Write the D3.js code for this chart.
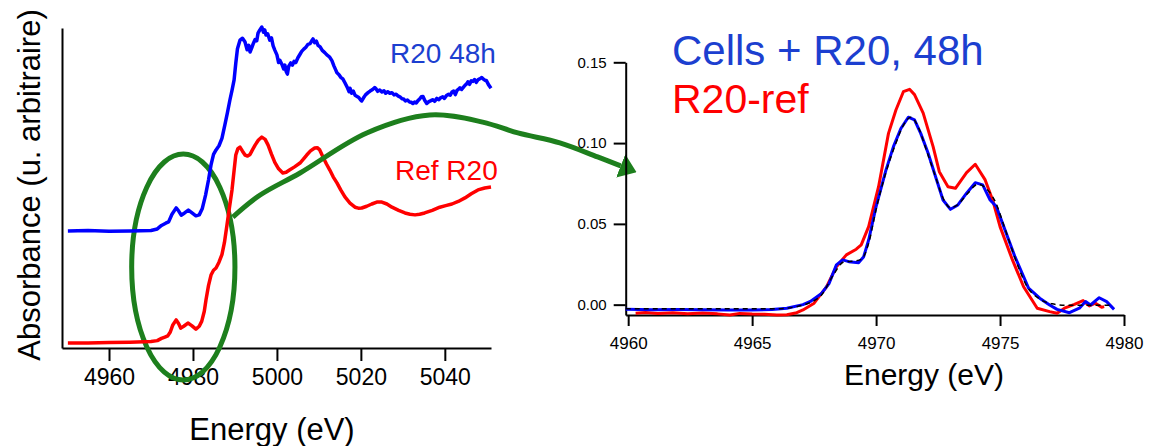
<!DOCTYPE html>
<html>
<head>
<meta charset="utf-8">
<script src="https://cdn.jsdelivr.net/npm/d3@7"></script>
<style>
  body { margin: 0; background: #fff; }
  text { font-family: "Liberation Sans", Arial, sans-serif; }
</style>
</head>
<body>
<div id="chart"></div>
<script>
// left panel: full XANES spectra, [energy eV, absorbance (arb. units, offset)]
var r20_48h = [
  [4950.2,36.6],[4955,36.7],[4960,36.5],[4965,36.6],[4970,36.7],[4971.5,37.2],[4972.5,38.3],[4973.5,39.0],
  [4974.2,39.4],[4975,41.8],[4976,43.8],[4976.6,42.8],[4977.2,41.5],[4978,42.2],[4978.9,43.1],[4979.7,42.3],
  [4980.7,41.3],[4981.5,41.6],[4982.2,43.5],[4983,47.8],[4983.7,52.5],[4984.3,57.2],[4984.9,60.5],[4985.5,61.9],
  [4986.2,63.2],[4986.9,65.5],[4987.6,69.7],[4988.2,73.5],[4988.8,77.5],[4989.3,80.5],[4989.8,83.8],[4990.2,89],
  [4990.6,93.5],[4991.2,96.2],[4991.8,96.8],[4992.4,95.6],[4992.9,93.2],[4993.3,94.6],[4993.6,92.5],[4994.0,93.8],
  [4994.3,94.9],[4994.8,96.4],[4995.2,96.0],[4995.5,98.4],[4995.9,99.3],[4996.4,100.3],[4996.8,98.7],[4997.1,99.4],
  [4997.4,97.8],[4997.8,98.2],[4998.3,96.2],[4998.7,96.9],[4999.1,94.4],[4999.5,93.1],[5000,91.6],[5000.4,89.2],
  [5000.7,89.9],[5001.2,88.6],[5001.6,87.2],[5001.9,88.4],[5002.2,86.4],[5002.5,85.6],[5002.8,88.0],[5003.3,89.1],
  [5003.7,88.4],[5004.1,89.6],[5004.5,89.2],[5005,90.7],[5005.5,91.8],[5005.9,92.7],[5006.4,93.4],[5006.9,94.0],
  [5007.4,94.9],[5007.9,95.1],[5008.3,96.0],[5008.6,96.6],[5009.0,95.4],[5009.4,95.9],[5009.8,94.6],[5010.3,94.1],
  [5010.8,93.0],[5011.4,92.3],[5011.9,91.6],[5012.5,91.0],[5013.1,89.8],[5013.6,88.1],[5014.0,86.9],[5014.3,86.0],
  [5014.8,85.4],[5015.2,84.6],[5015.7,84.1],[5016.2,82.9],[5016.8,81.3],[5017.2,80.1],[5017.4,81.2],[5017.8,79.6],
  [5018.2,80.3],[5018.6,79.0],[5019.0,78.7],[5019.5,78.3],[5019.9,77.6],[5020.2,77.2],[5020.6,78.1],[5021.1,79.1],
  [5021.7,79.8],[5022.2,80.3],[5022.8,80.8],[5023.3,81.4],[5023.6,81.0],[5024.0,80.2],[5024.5,80.6],[5025.0,80.0],
  [5025.5,80.4],[5025.9,79.6],[5026.4,80.1],[5026.9,79.6],[5027.4,79.8],[5027.9,79.1],[5028.4,79.3],[5028.8,78.8],
  [5029.3,78.5],[5029.8,77.9],[5030.2,77.8],[5030.6,77.2],[5031.1,77.5],[5031.6,76.9],[5032.0,76.8],[5032.4,76.4],
  [5032.8,76.9],[5033.2,76.6],[5033.6,77.3],[5034.0,77.8],[5034.4,78.5],[5034.8,78.6],[5035.2,77.4],[5035.7,76.4],
  [5036.2,77.0],[5036.7,77.3],[5037.1,77.6],[5037.6,77.1],[5038.1,78.0],[5038.6,77.6],[5039.0,78.2],[5039.5,78.5],
  [5039.9,78.0],[5040.4,78.9],[5040.9,79.3],[5041.3,79.0],[5041.7,80.0],[5042.1,80.3],[5042.5,79.2],[5042.9,80.5],
  [5043.3,80.9],[5043.6,81.3],[5044.0,80.8],[5044.5,81.6],[5044.9,82.2],[5045.3,82.7],[5045.5,83.2],[5045.9,82.4],
  [5046.3,83.5],[5046.7,83.3],[5047.1,83.9],[5047.5,83.0],[5047.9,83.8],[5048.3,84.1],[5048.8,84.5],[5049.2,84.0],
  [5049.6,83.6],[5049.9,83.6],[5050.4,82.3],[5051.0,81.2]
];

var refR20 = [
  [4950.2,1.6],[4955,1.6],[4960,1.7],[4965,1.8],[4970,2.0],[4971.5,2.3],[4972.5,3.0],[4973.3,3.4],[4974,3.8],
  [4974.6,5.0],[4975.2,7.2],[4976,8.8],[4976.6,7.6],[4977.1,6.2],[4977.8,6.8],[4978.8,7.8],[4979.7,7.0],[4980.7,5.9],
  [4981.5,6.8],[4982.1,8.4],[4982.7,11.5],[4983.1,15.0],[4983.7,19.5],[4984.3,22.8],[4984.9,24.3],[4985.5,25.0],
  [4986.2,26.8],[4986.9,29.2],[4987.5,33.0],[4988.1,38.4],[4988.7,44.0],[4989.3,49.4],[4989.8,55.5],[4990.2,60.3],
  [4990.7,62.3],[4991.2,62.8],[4991.8,61.5],[4992.4,60.3],[4993.0,60.0],[4993.6,60.5],[4994.2,62.0],[4994.8,63.4],
  [4995.6,65.0],[4996.4,65.9],[4997.2,65.2],[4997.9,63.4],[4998.7,60.6],[4999.5,58.0],[5000.4,56.0],[5001.4,54.7],
  [5002.2,54.9],[5003,55.6],[5004.2,56.6],[5005.5,57.8],[5006.3,59.0],[5007.1,60.3],[5008.0,61.6],[5009.0,62.5],
  [5009.6,62.6],[5010.2,61.9],[5011.0,59.6],[5011.8,57.5],[5012.6,55.6],[5013.4,53.5],[5014.3,51.6],[5015.2,49.4],
  [5016.2,47.2],[5017.4,45.3],[5018.6,44.0],[5019.4,43.7],[5020.2,43.75],[5021.4,44.3],[5022.6,45.0],[5023.8,45.6],
  [5025.0,45.6],[5026.2,45.0],[5027.4,44.0],[5029.0,43.0],[5030.5,42.2],[5031.7,41.8],[5032.9,41.6],[5034.0,41.8],
  [5035.2,42.2],[5037.0,43.0],[5038.8,44.0],[5040.2,44.5],[5041.7,45.0],[5043.2,45.8],[5044.8,46.9],[5046.3,48.2],
  [5047.9,49.4],[5049.5,50.0],[5051.0,50.3]
];

// right panel: pre-edge region
var cellsR20 = [
  [4959.9,-0.0029],[4961,-0.0031],[4962,-0.0030],[4963,-0.0032],[4964,-0.0033],[4965,-0.0033],[4965.8,-0.0030],
  [4966.4,-0.0022],[4967.05,0],[4967.35,0.002],[4967.8,0.007],[4968.1,0.013],[4968.4,0.0246],[4968.65,0.0277],
  [4968.9,0.0266],[4969.3,0.026],[4969.5,0.0297],[4969.7,0.040],[4970.0,0.0607],[4970.4,0.0834],[4970.7,0.0978],
  [4971.0,0.109],[4971.3,0.116],[4971.55,0.1143],[4971.8,0.106],[4972.1,0.0937],[4972.4,0.0792],[4972.7,0.0648],
  [4973.0,0.059],[4973.3,0.0617],[4973.65,0.069],[4974.0,0.0755],[4974.3,0.0741],[4974.6,0.0648],[4974.85,0.0607],
  [4975.15,0.0483],[4975.6,0.0297],[4976.15,0.0102],[4976.6,0.004],[4977.0,-0.0002],[4977.3,-0.0029],
  [4977.8,-0.005],[4978.2,-0.0022],[4978.45,0.0019],[4978.65,-0.0002],[4979.0,0.0043],[4979.3,0.0019],[4979.6,-0.0029]
];

var r20Ref = [
  [4960.3,-0.0053],[4960.7,-0.0048],[4961.2,-0.0055],[4961.8,-0.0050],[4962.4,-0.0056],[4963.0,-0.0052],
  [4963.6,-0.0057],[4964.1,-0.0064],[4964.5,-0.0054],[4965.0,-0.0058],[4965.5,-0.0060],[4966.0,-0.0064],
  [4966.4,-0.0062],[4966.8,-0.0050],[4967.05,-0.0033],[4967.5,0.0009],[4968.0,0.011],[4968.4,0.0235],
  [4968.8,0.0308],[4969.2,0.0343],[4969.4,0.037],[4969.7,0.0483],[4970.1,0.073],[4970.5,0.106],[4970.8,0.1205],
  [4971.1,0.1318],[4971.35,0.1333],[4971.55,0.130],[4971.9,0.1185],[4972.3,0.0978],[4972.55,0.0823],[4972.9,0.073],
  [4973.2,0.072],[4973.65,0.0817],[4974.0,0.0869],[4974.4,0.0772],[4974.7,0.0648],[4975.0,0.0483],[4975.5,0.0277],
  [4975.95,0.0111],[4976.5,-0.0022],[4977.0,-0.0043],[4977.3,-0.0053],[4977.6,-0.0022],[4978.0,0.0002],
  [4978.35,0.0025],[4978.6,-0.0008],[4978.85,0.0009],[4979.1,-0.0016],[4979.2,-0.0012]
];

var fitCurve = [
  [4959.9,-0.0025],[4966,-0.0025],[4966.8,-0.0012],[4967.3,0.001],[4967.8,0.006],[4968.3,0.019],[4968.7,0.0265],
  [4969.1,0.027],[4969.4,0.028],[4969.7,0.038],[4970.0,0.059],[4970.4,0.082],[4970.8,0.100],[4971.1,0.111],
  [4971.4,0.116],[4971.7,0.110],[4972.0,0.097],[4972.4,0.079],[4972.7,0.066],[4973.0,0.060],[4973.3,0.062],
  [4973.7,0.069],[4974.1,0.0745],[4974.4,0.0725],[4974.8,0.064],[4975.2,0.047],[4975.6,0.029],[4976.1,0.011],
  [4976.6,0.0035],[4977.1,0.0005],[4977.6,-0.0003],[4978.5,-0.0003],[4979.5,-0.0003]
];

var leftTicks = [4960, 4980, 5000, 5020, 5040];
var rightXTicks = [4960, 4965, 4970, 4975, 4980];
var rightYTicks = [0, 0.05, 0.10, 0.15];

// annotation (in left-panel data units): ellipse round the pre-edge, arrow to the zoom
var ellipseCenter = [4977.7, 25.3];
var ellipseRadius = [12.3, 35.3];
var arrowPath = [
  [4989.5,40.9],[4996,47.8],[5005.5,54.7],[5021.4,67.2],[5036.4,72.8],[5049.0,70.6],
  [5057.4,67.2],[5067.4,64.1],[5076.4,59.7],[5081.9,56.9]
];

function init(){

    var w = 1152;
    var h = 446;
    var green = "#1d7f1d";

    var svg = d3.select("#chart")
                .append("svg")
                .attr("width", w)
                .attr("height", h);

    svg.append("rect").attr("width", w).attr("height", h).attr("fill", "#fff");

    // ---------- left panel ----------
    var xL = d3.scaleLinear().domain([4948.8, 5051]).range([62, 491]);
    var yL = d3.scaleLinear().domain([0, 100]).range([348, 28]);

    var xAxisL = svg.append("g")
        .attr("transform", "translate(0,348)")
        .call(d3.axisBottom(xL).tickValues(leftTicks).tickSize(13).tickSizeOuter(0).tickPadding(8)
              .tickFormat(d3.format("d")));
    xAxisL.selectAll("text").attr("font-size", "23px").attr("fill", "#000");

    svg.append("g")
        .attr("transform", "translate(62,0)")
        .call(d3.axisLeft(yL).tickValues([]).tickSizeOuter(0));

    svg.selectAll(".domain, .tick line").attr("stroke", "#000").attr("stroke-width", 2);

    // green annotations (behind the curves)
    svg.append("ellipse")
        .attr("cx", xL(ellipseCenter[0]))
        .attr("cy", yL(ellipseCenter[1]))
        .attr("rx", xL(ellipseCenter[0] + ellipseRadius[0]) - xL(ellipseCenter[0]))
        .attr("ry", yL(ellipseCenter[1]) - yL(ellipseCenter[1] + ellipseRadius[1]))
        .attr("fill", "none")
        .attr("stroke", green)
        .attr("stroke-width", 5);

    var lineL = d3.line()
        .x(function(d){ return xL(d[0]); })
        .y(function(d){ return yL(d[1]); });

    svg.append("path")
        .datum(refR20)
        .attr("d", lineL)
        .attr("fill", "none")
        .attr("stroke", "#ff0000")
        .attr("stroke-width", 3.5)
        .attr("stroke-linejoin", "round");

    svg.append("path")
        .datum(r20_48h)
        .attr("d", lineL)
        .attr("fill", "none")
        .attr("stroke", "#0000ff")
        .attr("stroke-width", 3.5)
        .attr("stroke-linejoin", "round");

    // arrow
    svg.append("defs").append("marker")
        .attr("id", "head")
        .attr("markerUnits", "userSpaceOnUse")
        .attr("viewBox", "0 -13 17 26")
        .attr("refX", 0)
        .attr("refY", 0)
        .attr("markerWidth", 17)
        .attr("markerHeight", 26)
        .attr("orient", "auto")
        .append("path")
        .attr("d", "M0,-12.5L17,0L0,12.5Z")
        .attr("fill", green);

    svg.append("path")
        .datum(arrowPath)
        .attr("d", lineL.curve(d3.curveCatmullRom))
        .attr("fill", "none")
        .attr("stroke", green)
        .attr("stroke-width", 5)
        .attr("marker-end", "url(#head)");

    svg.append("text")
        .attr("x", 390).attr("y", 63)
        .attr("font-size", "28px")
        .attr("fill", "#1c3fd0")
        .text("R20 48h");

    svg.append("text")
        .attr("x", 395).attr("y", 180)
        .attr("font-size", "28px")
        .attr("fill", "#ff0000")
        .text("Ref R20");

    svg.append("text")
        .attr("x", 272).attr("y", 440)
        .attr("text-anchor", "middle")
        .attr("font-size", "31px")
        .attr("fill", "#000")
        .text("Energy (eV)");

    svg.append("text")
        .attr("transform", "translate(40,185) rotate(-90)")
        .attr("text-anchor", "middle")
        .attr("font-size", "31px")
        .attr("fill", "#000")
        .text("Absorbance (u. arbitraire)");

    // ---------- right panel ----------
    var xR = d3.scaleLinear().domain([4959.9, 4980]).range([625.7, 1124]);
    var yR = d3.scaleLinear().domain([-0.0064, 0.15]).range([315, 62.3]);

    var gR = svg.append("g");

    var xAxisR = gR.append("g")
        .attr("transform", "translate(0,315)")
        .call(d3.axisBottom(xR).tickValues(rightXTicks).tickSize(11).tickSizeOuter(0).tickPadding(11)
              .tickFormat(d3.format("d")));
    xAxisR.selectAll("text").attr("font-size", "17px").attr("fill", "#000");

    var yAxisR = gR.append("g")
        .attr("transform", "translate(625.7,0)")
        .call(d3.axisLeft(yR).tickValues(rightYTicks).tickSize(12).tickSizeOuter(0).tickPadding(7)
              .tickFormat(d3.format(".2f")));
    yAxisR.selectAll("text").attr("font-size", "15px").attr("fill", "#000");

    gR.selectAll(".domain, .tick line").attr("stroke", "#000").attr("stroke-width", 2);

    var lineR = d3.line()
        .x(function(d){ return xR(d[0]); })
        .y(function(d){ return yR(d[1]); });

    gR.append("path")
        .datum(r20Ref)
        .attr("d", lineR)
        .attr("fill", "none")
        .attr("stroke", "#ff0000")
        .attr("stroke-width", 3)
        .attr("stroke-linejoin", "round");

    gR.append("path")
        .datum(cellsR20)
        .attr("d", lineR)
        .attr("fill", "none")
        .attr("stroke", "#0000ff")
        .attr("stroke-width", 3)
        .attr("stroke-linejoin", "round");

    gR.append("path")
        .datum(fitCurve)
        .attr("d", lineR.curve(d3.curveMonotoneX))
        .attr("fill", "none")
        .attr("stroke", "#000")
        .attr("stroke-width", 1.5)
        .attr("stroke-dasharray", "5,4");

    gR.append("text")
        .attr("x", 672).attr("y", 65)
        .attr("font-size", "42px")
        .attr("fill", "#1c3fd0")
        .text("Cells + R20, 48h");

    gR.append("text")
        .attr("x", 672).attr("y", 113)
        .attr("font-size", "41px")
        .attr("fill", "#ff0000")
        .text("R20-ref");

    gR.append("text")
        .attr("x", 924).attr("y", 385)
        .attr("text-anchor", "middle")
        .attr("font-size", "30px")
        .attr("fill", "#000")
        .text("Energy (eV)");
}

window.onload = init;
</script>
</body>
</html>
